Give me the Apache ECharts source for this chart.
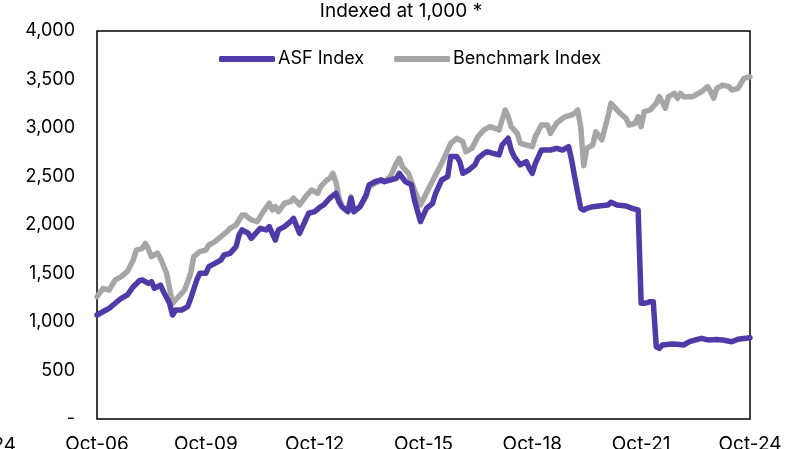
<!DOCTYPE html>
<html>
<head>
<meta charset="utf-8">
<script src="https://cdn.jsdelivr.net/npm/echarts@6/dist/echarts.min.js"></script>
<style>
    html, body { margin: 0; padding: 0; background: #fff; }
    #chart { width: 802px; height: 449px; }
</style>
</head>
<body>
<div id="chart"></div>
<script>
    // months counted from Oct-06, values indexed at 1,000
    var xTickLabels = ['Oct-06', 'Oct-09', 'Oct-12', 'Oct-15', 'Oct-18', 'Oct-21', 'Oct-24'];

    var asfMonths = [0, 3, 4, 6, 8, 10, 12, 14, 15, 17, 18, 19, 21, 22, 24, 25, 26, 28, 30, 31,
        33, 34, 36, 37, 39, 41, 42, 44, 46, 47, 48, 50, 51, 53, 54, 56, 57, 59, 60, 62,
        64, 65, 67, 69, 70, 72, 74, 75, 77, 79, 80, 81, 83, 84, 85, 87, 89, 90, 92, 94,
        95, 97, 99, 100, 102, 104, 105, 107, 109, 111, 112, 114, 116, 117, 119, 120, 121, 123, 125, 126,
        128, 129, 131, 133, 134, 136, 137, 138, 140, 142, 143, 144, 145, 147, 149, 150, 152, 154, 155, 156,
        157, 158, 160, 161, 162, 164, 166, 169, 170, 172, 175, 177, 179, 180, 181, 182, 183, 184, 185, 186,
        187, 190, 192, 194, 196, 198, 200, 202, 205, 207, 210, 212, 216];
    var asfValues = [1072, 1124, 1140, 1193, 1244, 1278, 1364, 1426, 1433, 1399, 1416, 1347, 1381, 1312, 1193, 1072, 1124, 1124, 1158, 1244,
        1433, 1502, 1502, 1570, 1605, 1639, 1691, 1708, 1777, 1897, 1949, 1915, 1863, 1931, 1966, 1949, 1983, 1845, 1949, 1983,
        2035, 2069, 1914, 2052, 2121, 2138, 2189, 2207, 2276, 2327, 2241, 2189, 2138, 2276, 2138, 2189, 2310, 2413, 2447, 2464,
        2447, 2464, 2481, 2533, 2447, 2413, 2258, 2035, 2172, 2224, 2327, 2464, 2498, 2705, 2705, 2653, 2533, 2567, 2619, 2688,
        2739, 2756, 2739, 2722, 2825, 2894, 2773, 2705, 2619, 2653, 2584, 2533, 2636, 2773, 2773, 2773, 2790, 2773, 2790, 2808,
        2670, 2498, 2172, 2155, 2172, 2189, 2196, 2207, 2235, 2207, 2196, 2172, 2155, 1193, 1193, 1200, 1210, 1210, 745, 728,
        763, 773, 770, 763, 797, 815, 832, 815, 820, 815, 797, 822, 838];

    var benchMonths = [0, 2, 4, 6, 8, 10, 12, 13, 15, 16, 17, 18, 20, 21, 23, 25, 26, 27, 29, 31,
        32, 34, 36, 37, 39, 41, 43, 44, 46, 48, 49, 51, 53, 55, 57, 58, 59, 60, 62, 64,
        65, 67, 69, 71, 73, 74, 76, 77, 78, 79, 80, 81, 83, 84, 85, 87, 89, 90, 92, 94,
        95, 97, 99, 100, 101, 103, 105, 107, 110, 112, 114, 117, 119, 121, 122, 124, 126, 128, 130, 133,
        134, 135, 136, 137, 139, 140, 142, 144, 145, 147, 149, 150, 152, 154, 155, 157, 158, 159, 160, 161,
        162, 164, 165, 167, 169, 170, 171, 173, 175, 176, 178, 179, 180, 181, 183, 185, 186, 188, 189, 191,
        192, 193, 194, 197, 198, 200, 202, 203, 204, 205, 207, 209, 210, 212, 213, 214, 216];
    var benchValues = [1261, 1347, 1330, 1433, 1467, 1519, 1639, 1742, 1760, 1811, 1750, 1674, 1710, 1657, 1502, 1193, 1227, 1261, 1330, 1502,
        1674, 1725, 1742, 1794, 1828, 1880, 1931, 1966, 2000, 2103, 2103, 2052, 2035, 2138, 2224, 2155, 2190, 2138, 2224, 2241,
        2276, 2207, 2293, 2361, 2327, 2395, 2464, 2481, 2533, 2447, 2292, 2189, 2138, 2292, 2138, 2189, 2292, 2395, 2430, 2464,
        2447, 2498, 2636, 2688, 2601, 2533, 2361, 2207, 2395, 2516, 2636, 2842, 2894, 2859, 2756, 2790, 2911, 2980, 3014, 2980,
        3083, 3186, 3117, 3014, 2945, 2842, 2825, 2808, 2911, 3031, 3031, 2945, 3049, 3100, 3117, 3134, 3152, 3186, 3014, 2610,
        2790, 2825, 2962, 2877, 3117, 3255, 3220, 3152, 3100, 3031, 3049, 3117, 3014, 3169, 3186, 3255, 3323, 3203, 3323, 3357,
        3306, 3357, 3323, 3323, 3340, 3375, 3426, 3375, 3306, 3409, 3443, 3426, 3392, 3409, 3461, 3512, 3529];

    function pairs(xs, ys) {
        return xs.map(function (x, i) { return [x, ys[i]]; });
    }

    var font = 'Inter, "Noto Sans", sans-serif';
    var chart = echarts.init(document.getElementById('chart'));
    chart.setOption({
        animation: false,
        textStyle: { fontFamily: font, color: '#000' },
        title: {
            text: 'Indexed at 1,000 *',
            left: 'center',
            top: 2,
            padding: 0,
            textStyle: { fontSize: 19, fontWeight: 'normal', color: '#000', fontFamily: font }
        },
        legend: {
            data: ['ASF Index', 'Benchmark Index'],
            left: 214,
            top: 45,
            icon: 'roundRect',
            itemWidth: 56,
            itemHeight: 6,
            itemGap: 30,
            textStyle: { fontSize: 18, color: '#000', fontFamily: font, padding: [0, 0, 0, -2] }
        },
        grid: {
            left: 97,
            right: 52,
            top: 31,
            bottom: 30,
            outerBoundsMode: 'none',
            show: true,
            borderColor: '#000',
            borderWidth: 1.5
        },
        xAxis: {
            type: 'value',
            min: 0,
            max: 216,
            interval: 36,
            axisLine: { show: false },
            axisTick: { show: false },
            splitLine: { show: false },
            axisLabel: {
                margin: 16,
                fontSize: 19,
                color: '#000',
                fontFamily: font,
                formatter: function (v) { return xTickLabels[Math.round(v / 36)]; }
            }
        },
        yAxis: {
            type: 'value',
            min: 0,
            max: 4000,
            interval: 500,
            axisLine: { show: false },
            axisTick: { show: false },
            splitLine: { show: false },
            axisLabel: {
                margin: 22,
                fontSize: 18,
                color: '#000',
                fontFamily: font,
                formatter: function (v) { return v === 0 ? '-' : v.toLocaleString('en-US'); }
            }
        },
        graphic: [{
            type: 'text',
            x: 16,
            y: 445,
            style: { text: 'Oct-24', align: 'right', verticalAlign: 'middle', fontSize: 19, fontFamily: font, fill: '#000' }
        }],
        series: [
            {
                name: 'Benchmark Index',
                type: 'line',
                symbol: 'none',
                data: pairs(benchMonths, benchValues),
                lineStyle: { color: '#A6A6A6', width: 5.5, cap: 'round', join: 'round' },
                itemStyle: { color: '#A6A6A6' }
            },
            {
                name: 'ASF Index',
                type: 'line',
                symbol: 'none',
                data: pairs(asfMonths, asfValues),
                lineStyle: { color: '#4E3BA7', width: 5.5, cap: 'round', join: 'round' },
                itemStyle: { color: '#4E3BA7' }
            }
        ]
    });
</script>
</body>
</html>
